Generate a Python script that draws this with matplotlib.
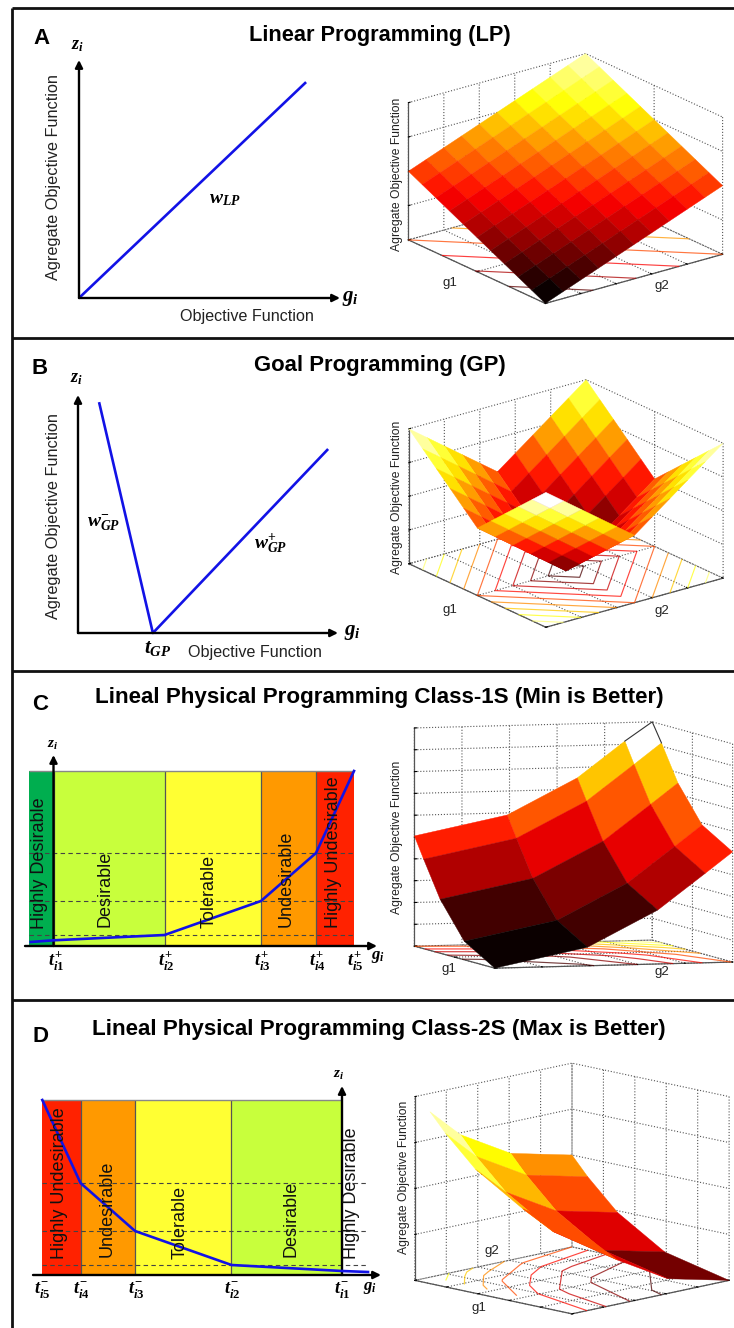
import numpy as np
import matplotlib
matplotlib.use("Agg")
import matplotlib.pyplot as plt

plt.rcParams.update({
    "font.family": ["Liberation Sans", "DejaVu Sans"],
    "mathtext.fontset": "custom",
    "mathtext.it": "Liberation Serif:italic:bold",
    "mathtext.rm": "Liberation Serif:bold",
    "mathtext.bf": "Liberation Serif:bold",
    "mathtext.default": "it",
    "grid.linestyle": ":",
    "grid.color": "#555555",
    "grid.linewidth": 0.8,
})

# ---- data: schematic curves ----
lp_x = [0.0, 0.87]
lp_z = [0.0, 0.907]
gp_x = [0.081, 0.288, 0.962]
gp_z = [0.97, 0.0, 0.773]

c_edges = [-24.5, 0.0, 111.0, 207.5, 262.5, 300.5]
c_curve_x = [-22.8, 0.0, 111.0, 207.5, 262.5, 300.5]
c_curve_z = [4.0, 5.7, 11.0, 45.0, 93.0, 175.0]
c_levels = [11.0, 45.0, 93.0]
c_top = 175.0
c_tick_labels = [r"$t^{+}_{\mathit{i1}}$", r"$t^{+}_{\mathit{i2}}$", r"$t^{+}_{\mathit{i3}}$",
                 r"$t^{+}_{\mathit{i4}}$", r"$t^{+}_{\mathit{i5}}$"]

d_edges = [-299.7, -261.5, -207.0, -110.5, 0.0]
d_curve_x = [-299.7, -261.5, -207.0, -110.5, 0.0, 26.0]
d_curve_z = [175.0, 92.0, 44.0, 10.0, 4.0, 3.0]
d_levels = [10.0, 44.0, 92.0]
d_top = 175.0
d_tick_labels = [r"$t^{-}_{\mathit{i5}}$", r"$t^{-}_{\mathit{i4}}$", r"$t^{-}_{\mathit{i3}}$",
                 r"$t^{-}_{\mathit{i2}}$", r"$t^{-}_{\mathit{i1}}$"]

zone_names_c = ["Highly Desirable", "Desirable", "Tolerable", "Undesirable", "Highly Undesirable"]
zone_colors_c = ["#00AE4F", "#C8FF3C", "#FFFF33", "#FF9900", "#FF2200"]
zone_names_d = ["Highly Undesirable", "Undesirable", "Tolerable", "Desirable"]
zone_colors_d = ["#FF2200", "#FF9900", "#FFFF33", "#C8FF3C"]

# ---- data: surfaces ----
grid_ab = [0.0, 0.1, 0.2, 0.3, 0.4, 0.5, 0.6, 0.7, 0.8, 0.9, 1.0]
z_lp = [
    [0.00, 0.05, 0.10, 0.15, 0.20, 0.25, 0.30, 0.35, 0.40, 0.45, 0.50],
    [0.05, 0.10, 0.15, 0.20, 0.25, 0.30, 0.35, 0.40, 0.45, 0.50, 0.55],
    [0.10, 0.15, 0.20, 0.25, 0.30, 0.35, 0.40, 0.45, 0.50, 0.55, 0.60],
    [0.15, 0.20, 0.25, 0.30, 0.35, 0.40, 0.45, 0.50, 0.55, 0.60, 0.65],
    [0.20, 0.25, 0.30, 0.35, 0.40, 0.45, 0.50, 0.55, 0.60, 0.65, 0.70],
    [0.25, 0.30, 0.35, 0.40, 0.45, 0.50, 0.55, 0.60, 0.65, 0.70, 0.75],
    [0.30, 0.35, 0.40, 0.45, 0.50, 0.55, 0.60, 0.65, 0.70, 0.75, 0.80],
    [0.35, 0.40, 0.45, 0.50, 0.55, 0.60, 0.65, 0.70, 0.75, 0.80, 0.85],
    [0.40, 0.45, 0.50, 0.55, 0.60, 0.65, 0.70, 0.75, 0.80, 0.85, 0.90],
    [0.45, 0.50, 0.55, 0.60, 0.65, 0.70, 0.75, 0.80, 0.85, 0.90, 0.95],
    [0.50, 0.55, 0.60, 0.65, 0.70, 0.75, 0.80, 0.85, 0.90, 0.95, 1.00],
]
z_gp = [
    [1.0, 0.9, 0.8, 0.7, 0.6, 0.5, 0.6, 0.7, 0.8, 0.9, 1.0],
    [0.9, 0.8, 0.7, 0.6, 0.5, 0.4, 0.5, 0.6, 0.7, 0.8, 0.9],
    [0.8, 0.7, 0.6, 0.5, 0.4, 0.3, 0.4, 0.5, 0.6, 0.7, 0.8],
    [0.7, 0.6, 0.5, 0.4, 0.3, 0.2, 0.3, 0.4, 0.5, 0.6, 0.7],
    [0.6, 0.5, 0.4, 0.3, 0.2, 0.1, 0.2, 0.3, 0.4, 0.5, 0.6],
    [0.5, 0.4, 0.3, 0.2, 0.1, 0.0, 0.1, 0.2, 0.3, 0.4, 0.5],
    [0.6, 0.5, 0.4, 0.3, 0.2, 0.1, 0.2, 0.3, 0.4, 0.5, 0.6],
    [0.7, 0.6, 0.5, 0.4, 0.3, 0.2, 0.3, 0.4, 0.5, 0.6, 0.7],
    [0.8, 0.7, 0.6, 0.5, 0.4, 0.3, 0.4, 0.5, 0.6, 0.7, 0.8],
    [0.9, 0.8, 0.7, 0.6, 0.5, 0.4, 0.5, 0.6, 0.7, 0.8, 0.9],
    [1.0, 0.9, 0.8, 0.7, 0.6, 0.5, 0.6, 0.7, 0.8, 0.9, 1.0],
]
grid_c_x = [0.0, 0.39, 0.685, 0.885, 1.0]
grid_c_y = [0.0, 0.38, 0.68, 0.885, 1.0]
z_c = [
    [0.000, 0.085, 0.247, 0.410, 0.505],
    [0.085, 0.170, 0.332, 0.495, 0.590],
    [0.247, 0.332, 0.494, 0.657, 0.752],
    [0.410, 0.495, 0.657, 0.820, 0.915],
    [0.505, 0.590, 0.752, 0.915, 1.000],
]
grid_d_x = [0.096, 0.29, 0.61, 1.0]
grid_d_y = [0.0, 0.41, 0.71, 0.90, 1.0]
z_d = [
    [0.40, 0.24, 0.08, 0.00],
    [0.48, 0.32, 0.16, 0.08],
    [0.64, 0.48, 0.32, 0.24],
    [0.80, 0.64, 0.48, 0.40],
    [0.90, 0.74, 0.58, 0.50],
]
levels_a = [0.134, 0.256, 0.378, 0.5, 0.622, 0.744, 0.866]
levels_bcd = [0.1, 0.2, 0.3, 0.4, 0.5, 0.6, 0.7, 0.8, 0.9]
ticks_6 = [0.0, 0.2, 0.4, 0.6, 0.8, 1.0]
ticks_3 = [0.0, 0.5, 1.0]
ticks_z4 = [0.0, 0.25, 0.5, 0.75, 1.0]
ticks_z10 = [0.0, 0.1, 0.2, 0.3, 0.4, 0.5, 0.6, 0.7, 0.8, 0.9, 1.0]

W, H = 734, 1328
fig = plt.figure(figsize=(W / 100, H / 100), dpi=100)
hot = plt.get_cmap("hot")
AX_BLUE = "#1212E6"


def px_rect(left, top, right, bottom):
    return [left / W, 1 - bottom / H, (right - left) / W, (bottom - top) / H]


def arrow(ax, p0, p1):
    ax.annotate("", xy=p1, xytext=p0, xycoords="axes fraction", textcoords="axes fraction",
                arrowprops=dict(arrowstyle="-|>", color="black", lw=1.7, mutation_scale=11,
                                shrinkA=0, shrinkB=0), annotation_clip=False)


def simple_panel(rect, xs, zs):
    ax = fig.add_axes(px_rect(*rect))
    ax.set_xlim(0, 1)
    ax.set_ylim(0, 1)
    ax.axis("off")
    ax.plot(xs, zs, color=AX_BLUE, lw=1.9, clip_on=False, solid_capstyle="butt")
    arrow(ax, (0, 0), (1, 0))
    arrow(ax, (0, 0), (0, 1))


def zone_panel(rect, xlim, ylim, edges, colors, top, levels, curve_x, curve_z, dash_end, origin_fx):
    ax = fig.add_axes(px_rect(*rect))
    ax.set_xlim(*xlim)
    ax.set_ylim(*ylim)
    ax.axis("off")
    for i, c in enumerate(colors):
        ax.bar(edges[i], top, width=edges[i + 1] - edges[i], align="edge", color=c, lw=0, zorder=1)
    ax.vlines(edges[1:-1], 0, top, color="#555555", lw=0.9, zorder=2)
    ax.hlines(top, edges[0], edges[-1], color="#888888", lw=1.0, zorder=2)
    ax.hlines(levels, edges[0], dash_end, color="#444444", lw=0.8, linestyles=(0, (4, 3)), zorder=2)
    ax.plot(curve_x, curve_z, color=AX_BLUE, lw=1.9, zorder=5)
    arrow(ax, (0, 0), (1, 0))
    arrow(ax, (origin_fx, 0), (origin_fx, 1))
    return ax


def surface_panel(cx, cy, size, azim, elev, aspect, xg, yg, zg, levels, xt, yt, zt, row_shift=0, blank=None):
    rect = px_rect(cx - 0.5135 * size, cy - (1 - 0.5135) * size, cx + (1 - 0.5135) * size, cy + 0.5135 * size)
    ax = fig.add_axes(rect, projection="3d", computed_zorder=False, proj_type="ortho")
    ax.set_facecolor("none")
    ax.view_init(elev=elev, azim=azim)
    ax.set_box_aspect(aspect)
    X, Y = np.meshgrid(xg, yg)
    Z = np.array(zg, dtype=float)
    ax.contour(X, Y, Z, levels=levels, zdir="z", offset=0, cmap="hot", vmin=0, vmax=1.05,
               linewidths=0.85, alpha=0.75, zorder=1)
    fc = hot(Z[row_shift:, :])
    if blank is not None:
        fc[blank] = (1, 1, 1, 1)
    ax.plot_surface(X, Y, Z, rstride=1, cstride=1, facecolors=fc, shade=False,
                    linewidth=0.3, antialiased=True, zorder=2)
    ax.set_xlim(0, 1)
    ax.set_ylim(0, 1)
    ax.set_zlim(0, 1)
    ax.set_xticks(xt)
    ax.set_yticks(yt)
    ax.set_zticks(zt)
    ax.set_xticklabels([])
    ax.set_yticklabels([])
    ax.set_zticklabels([])
    for a in (ax.xaxis, ax.yaxis, ax.zaxis):
        a.set_pane_color((1, 1, 1, 0))
        a.pane.set_edgecolor((1, 1, 1, 0))
        a.line.set_color("#555555")
        a.line.set_linewidth(0.9)
        a._axinfo["tick"]["inward_factor"] = 0.0
        a._axinfo["tick"]["outward_factor"] = 0.12
        a._axinfo["tick"]["color"] = "#555555"
    return ax


# Left schematics
simple_panel((79, 60, 340, 298), lp_x, lp_z)
simple_panel((78, 395, 338, 633), gp_x, gp_z)

zone_panel((25, 755, 377, 946), (-28.5, 323.5), (0, 191), c_edges, zone_colors_c, c_top,
           c_levels, c_curve_x, c_curve_z, c_edges[-1], 28.5 / 352)
zone_panel((33, 1086, 381, 1275), (-309, 39), (0, 189), d_edges, zone_colors_d, d_top,
           d_levels, d_curve_x, d_curve_z, 26.0, 309 / 348)

# Right surfaces
surface_panel(565.5, 178.5, 339, -127.7, 21, (224, 224, 147), grid_ab, grid_ab, z_lp, levels_a,
              ticks_6, ticks_3, ticks_z4)
surface_panel(566, 503.5, 338, -127.7, 21, (224, 224, 144.5), grid_ab, grid_ab, z_gp, levels_bcd,
              ticks_6, ticks_3, ticks_z4)
ax_c = surface_panel(573.5, 845, 418, -107, 4.8, (248.7, 275, 219), grid_c_x, grid_c_y, z_c, levels_bcd,
                     ticks_6, ticks_3, ticks_z10, blank=(3, 3))
surface_panel(572, 1188.5, 355.5, -135, 12.3, (221.6, 221.6, 187.6), grid_d_x, grid_d_y, z_d, levels_bcd,
              ticks_6, ticks_6, ticks_z4, row_shift=1)

# The far corner cell of panel C is shown blank with a thin outline
ax_c.plot([grid_c_x[3], grid_c_x[4], grid_c_x[4]], [grid_c_y[4], grid_c_y[4], grid_c_y[3]],
          [z_c[4][3], z_c[4][4], z_c[3][4]], color="#333333", lw=0.8, zorder=3)

# Frame and text overlay, in picture pixels
ov = fig.add_axes([0, 0, 1, 1], zorder=20)
ov.set_xlim(0, W)
ov.set_ylim(H, 0)
ov.axis("off")
frame_y = [8, 338, 671, 1000]
ov.hlines(frame_y, 12, W, color="#111111", lw=2.0)
ov.vlines([12], 8, H, color="#111111", lw=2.0)


def t(x, y, s, size, **kw):
    kw.setdefault("ha", "center")
    kw.setdefault("va", "center")
    ov.text(x, y, s, fontsize=size, **kw)


for (x, y, s) in [(41, 39, "A"), (40, 368, "B"), (40, 705, "C"), (40, 1037, "D")]:
    t(x, y, s, 16, fontweight="bold")

t(380, 35, "Linear Programming (LP)", 15.7, fontweight="bold")
t(379.5, 366, "Goal Programming (GP)", 15.9, fontweight="bold")
t(379, 697, "Lineal Physical Programming Class-1S (Min is Better)", 16.1, fontweight="bold")
t(378.5, 1030, "Lineal Physical Programming Class-2S (Max is Better)", 16.1, fontweight="bold")

t(54, 177, "Agregate Objective Function", 11.7, rotation=90, color="#222222")
t(247, 317, "Objective Function", 11.6, color="#222222")
t(54, 516, "Agregate Objective Function", 11.7, rotation=90, color="#222222")
t(255, 652, "Objective Function", 11.6, color="#222222")

t(350, 298, r"$g_i$", 15)
t(77, 46, r"$z_i$", 13)
t(225, 200, r"$w_{LP}$", 14)
t(352, 633, r"$g_i$", 15)
t(76, 379, r"$z_i$", 13)
t(158, 648, r"$t_{GP}$", 15)
t(104, 523, r"$w^{-}_{GP}$", 14)
t(271, 543, r"$w^{+}_{GP}$", 14)

# Panel C text
for (x, y, s) in zip([40, 105, 209, 286, 334], [863, 889, 891, 879, 852], zone_names_c):
    t(x, y, s, 13, rotation=90, color="#111111")
for x, s in zip([56, 166, 262, 317, 355], c_tick_labels):
    t(x, 961, s, 13)
t(378, 957, r"$g_i$", 12)
t(53, 745, r"$z_i$", 11)

# Panel D text
for (x, y, s) in zip([60, 107, 180, 291], [1183, 1209, 1222, 1219], zone_names_d):
    t(x, y, s, 13, rotation=90, color="#111111")
t(352, 1193, "Highly Desirable", 13, rotation=90, color="#111111")
for x, s in zip([42, 81, 136, 232, 342], d_tick_labels):
    t(x, 1291, s, 13)
t(370, 1288, r"$g_i$", 12)
t(339, 1075, r"$z_i$", 11)

# 3D labels
for (x, y) in [(397, 174), (397, 497), (397, 837), (404, 1177)]:
    t(x, y, "Agregate Objective Function", 8.7, rotation=90, color="#222222")
for (x, y, s) in [(450, 283, "g1"), (662, 286, "g2"), (450, 610, "g1"), (662, 611, "g2"),
                  (449, 969, "g1"), (662, 972, "g2"), (479, 1308, "g1"), (492, 1251, "g2")]:
    t(x, y, s, 9.5, color="#222222")

fig.savefig("out.png", dpi=100)
